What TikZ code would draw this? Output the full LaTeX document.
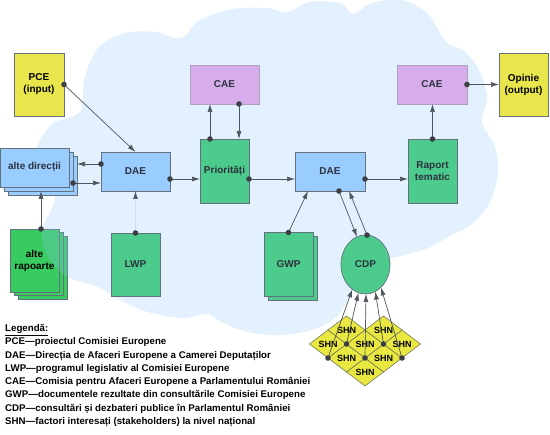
\documentclass[tikz,border=0pt]{standalone}
\usepackage{fontspec}
\setmainfont{Liberation Sans}
\usetikzlibrary{arrows.meta,shapes.geometric,calc}
\definecolor{cloudfill}{RGB}{140,200,250}
\definecolor{yel}{RGB}{232,230,76}
\definecolor{vio}{RGB}{214,173,234}
\definecolor{vioedge}{RGB}{175,160,195}
\definecolor{blu}{RGB}{153,204,255}
\definecolor{grn}{RGB}{77,203,140}
\definecolor{grnb}{RGB}{56,204,96}
\definecolor{edge}{RGB}{100,112,124}
\definecolor{txt}{RGB}{45,50,62}
\definecolor{wire}{RGB}{80,86,94}
\definecolor{faint}{RGB}{205,223,242}
\definecolor{shnfill}{RGB}{232,232,64}
\definecolor{shnedge}{RGB}{120,120,90}
\tikzset{
  bx/.style={draw=edge, line width=0.7pt, inner sep=1pt, outer sep=0pt, align=center, text=txt, font=\fontsize{10}{12}\selectfont\bfseries},
  yelbox/.style={bx, fill=yel, minimum width=50pt, minimum height=63pt, text=black},
  viobox/.style={bx, draw=vioedge, fill=vio, minimum width=70pt, minimum height=39pt},
  blubox/.style={bx, fill=blu, minimum width=70pt, minimum height=39pt},
  grnbox/.style={bx, fill=grn, minimum width=49pt, minimum height=64pt},
  grnbbox/.style={bx, fill=grnb, minimum width=49pt, minimum height=63pt, text=black},
  cdpshape/.style={bx, ellipse, fill=grn, minimum width=49pt, minimum height=59pt},
  shncell/.style={diamond, aspect=1.32, draw=shnedge, line width=0.6pt, fill=shnfill, minimum width=37pt, minimum height=28pt, inner sep=0pt, outer sep=0pt, font=\fontsize{9}{10}\selectfont\bfseries, text=black},
  conn/.style={draw=wire, line width=0.7pt, -{Latex[length=8pt,width=5pt]}},
  faintconn/.style={draw=faint, line width=0.7pt, -{Latex[length=8pt,width=5pt,color=wire]}},
  dotc/.style={fill=wire!75!black},
  legtext/.style={anchor=base west, inner sep=0pt, font=\fontsize{9.7}{11}\selectfont\bfseries, text=black},
}
\begin{document}
\begin{tikzpicture}[x=1pt,y=-1pt]
\useasboundingbox (0,0) rectangle (550,435);
\fill[white] (0,0) rectangle (550,435);

% alte rapoarte (under the cloud)
\node[grnbbox] (rapB) at (42.5,267.5) {};
\node[grnbbox] (rapA) at (38.5,264) {};
\node[grnbbox] (rapo) at (34.5,260.5) {alte\\rapoarte};

% cloud
\fill[cloudfill, fill opacity=0.25] plot[smooth cycle, tension=0.55] coordinates {
 (52,124) (80,112) (84,80) (98,48) (125,33) (155,32) (181,38) (200,20) (232,9) (266,8)
 (287,12) (310,2) (340,3) (353,14) (372,3) (402,0) (428,14) (446,42) (464,51) (479,70)
 (487,97) (482,122) (495,147) (498,173) (490,202) (472,224) (450,236) (428,248) (405,255)
 (380,262) (355,285) (345,305) (335,318) (318,328) (293,334) (267,335) (240,330) (218,320)
 (207,314) (182,318) (148,312) (120,300) (98,287) (70,278) (52,263) (43,245) (43,227)
 (55,198) (40,175) (36,150)};

% nodes
\node[yelbox] (pce) at (39,84.5) {PCE\\(input)};
\node[yelbox, minimum width=49pt] (opin) at (523.5,84.5) {Opinie\\(output)};
\node[viobox, minimum width=69pt] (cae1) at (224.5,84.5) {CAE};
\node[viobox] (cae2) at (432,84.5) {CAE};
\node[grnbox] (prio) at (224.5,171) {Priorități};
\node[blubox, minimum width=69pt] (dae1) at (135.5,171.5) {DAE};
\node[blubox] (dae2) at (330,171.5) {DAE};
\node[grnbox] (rap) at (432.5,171) {Raport\\tematic};
\node[grnbox, minimum height=63pt] (lwp) at (135.5,264.5) {LWP};
\node[grnbox] (gwpB) at (292.5,268) {};
\node[grnbox] (gwp) at (288.5,264.5) {GWP};
\node[cdpshape] (cdp) at (365.5,264.5) {CDP};
\node[blubox, minimum width=69pt] (dirB) at (42.5,175.5) {};
\node[blubox, minimum width=69pt] (dirA) at (38.5,171.5) {};
\node[blubox, minimum width=69pt] (dir) at (34.5,167.5) {alte direcții};

% connectors
\draw[conn] (pce.east) -- (dae1.north);
\fill[dotc] (pce.east) circle (2.8pt);
\draw[conn] (dae1.west |- 0,164) -- (dirB.east |- 0,164);
\fill[dotc] (dae1.west |- 0,164) circle (2.8pt);
\draw[conn] (dirA.east |- 0,183) -- (dae1.west |- 0,183);
\fill[dotc] (dirA.east |- 0,183) circle (2.8pt);
\coordinate (rapTop) at (rapo.north -| 41,0);
\coordinate (dirBot) at (41,191);
\draw[conn] (rapTop) -- (dirBot);
\fill[dotc] (rapTop) circle (2.8pt);
\draw[faintconn] (lwp.north) -- (dae1.south);
\fill[dotc] (lwp.north) circle (2.8pt);
\draw[conn] (dae1.east |- 0,179) -- (prio.west |- 0,179);
\fill[dotc] (dae1.east |- 0,179) circle (2.8pt);
\draw[conn] (prio.north -| 210,0) -- (cae1.south -| 210,0);
\fill[dotc] (prio.north -| 210,0) circle (2.8pt);
\draw[conn] (cae1.south -| 239,0) -- (prio.north -| 239,0);
\fill[dotc] (cae1.south -| 239,0) circle (2.8pt);
\draw[conn] (prio.east |- 0,179) -- (dae2.west |- 0,179);
\fill[dotc] (prio.east |- 0,179) circle (2.8pt);
\draw[conn] (dae2.east |- 0,179) -- (rap.west |- 0,179);
\fill[dotc] (dae2.east |- 0,179) circle (2.8pt);
\draw[conn] (rap.north) -- (cae2.south -| rap.north);
\fill[dotc] (rap.north) circle (2.8pt);
\draw[conn] (cae2.east) -- (opin.west);
\fill[dotc] (cae2.east) circle (2.8pt);
\draw[conn] (gwp.north) -- (dae2.south -| 308,0);
\fill[dotc] (gwp.north) circle (2.8pt);
\draw[conn] (dae2.south -| 339,0) -- (cdp.107);
\fill[dotc] (dae2.south -| 339,0) circle (2.8pt);
\draw[conn] (cdp.87) -- (dae2.south -| 349,0);
\fill[dotc] (cdp.87) circle (2.8pt);

% SHN cells
\foreach \i/\j in {0/0,1/0,2/0,0/1,1/1,2/1,0/2,1/2}
  \node[shncell] (s\i\j) at ({365+(\i-\j)*18.5},{386-(\i+\j+1)*14}) {SHN};

\draw[conn] (s01.west) -- (cdp.242);
\draw[conn] (s11.west) -- (cdp.256);
\draw[conn] (s00.north) -- (cdp.271);
\draw[conn] (s11.east) -- (cdp.290);
\draw[conn] (s10.east) -- (cdp.304);
\foreach \p in {s01.west, s11.west, s00.north, s11.east, s10.east}
  \fill[dotc] (\p) circle (2.8pt);

% legend
\foreach \k/\t in {0/{\underline{Legendă:}},
  1/{PCE—proiectul Comisiei Europene},
  2/{DAE—Direcția de Afaceri Europene a Camerei Deputaților},
  3/{LWP—programul legislativ al Comisiei Europene},
  4/{CAE—Comisia pentru Afaceri Europene a Parlamentului României},
  5/{GWP—documentele rezultate din consultările Comisiei Europene},
  6/{CDP—consultări și dezbateri publice în Parlamentul României},
  7/{SHN—factori interesați (stakeholders) la nivel național}}
  \node[legtext] (leg\k) at (5,{331.5+13.3*\k}) {\t};
\end{tikzpicture}
\end{document}
